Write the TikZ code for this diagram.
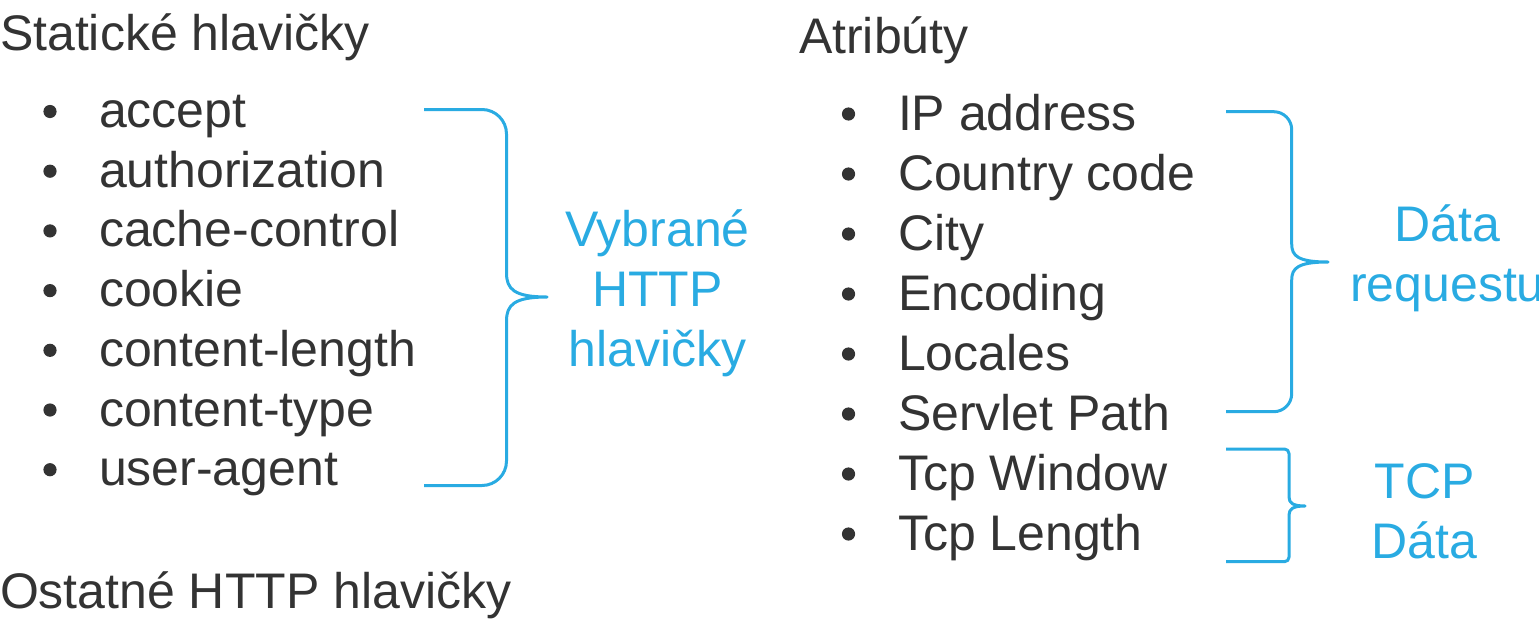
\documentclass[tikz,border=0pt]{standalone}
\usepackage{fontspec}
\setmainfont{Liberation Sans}
\definecolor{txtgray}{RGB}{51,51,51}
\definecolor{bracblue}{RGB}{41,171,226}
\tikzset{
  lbl/.style={inner sep=0pt, outer sep=0pt, anchor=base west, text=txtgray, font=\fontsize{50}{60}\selectfont},
  bluelbl/.style={inner sep=0pt, outer sep=0pt, anchor=base, text=bracblue, font=\fontsize{50}{60}\selectfont},
  brc/.style={draw=bracblue, line width=3pt, line cap=butt, line join=round},
  bul/.style={fill=txtgray}
}
\begin{document}
\begin{tikzpicture}[x=1pt,y=-1pt]
\useasboundingbox (0,0) rectangle (1539,624);
% left column
\node[lbl] (sh) at (0,50) {Statické hlavičky};
\node[lbl] (l1) at (99,127.5) {accept};
\node[lbl] (l2) at (99,187.2) {authorization};
\node[lbl] (l3) at (99,246.9) {cache-control};
\node[lbl] (l4) at (99,306.6) {cookie};
\node[lbl] (l5) at (99,366.3) {content-length};
\node[lbl] (l6) at (99,426) {content-type};
\node[lbl] (l7) at (99,485.7) {user-agent};
\node[lbl] (oh) at (0,608) {Ostatné HTTP hlavičky};
\foreach \y in {127.5,187.2,246.9,306.6,366.3,426,485.7}
  \fill[bul] (50,\y-16) circle (6.6);
% right column
\node[lbl] (at) at (799,53.3) {Atribúty};
\node[lbl] (r1) at (898,130) {IP address};
\node[lbl] (r2) at (898,190) {Country code};
\node[lbl] (r3) at (898,250) {City};
\node[lbl] (r4) at (898,310) {Encoding};
\node[lbl] (r5) at (898,370) {Locales};
\node[lbl] (r6) at (898,430) {Servlet Path};
\node[lbl] (r7) at (898,490) {Tcp Window};
\node[lbl] (r8) at (898,550) {Tcp Length};
\foreach \y in {130,190,250,310,370,430,490,550}
  \fill[bul] (848.5,\y-16) circle (6.6);
% blue labels
\node[bluelbl] (v1) at (657.5,246.7) {Vybrané};
\node[bluelbl] (v2) at (657.5,306.7) {HTTP};
\node[bluelbl] (v3) at (657.5,366.7) {hlavičky};
\node[bluelbl] (d1) at (1447.5,241.7) {Dáta};
\node[bluelbl] (d2) at (1447.5,301.7) {requestu};
\node[bluelbl] (t1) at (1424.5,498.3) {TCP};
\node[bluelbl] (t2) at (1424.5,558.3) {Dáta};
% brace 1
\draw[brc] (424,109.5) -- (482,109.5) arc[start angle=270,end angle=360,radius=24.5]
  -- (506.5,273) .. controls (506.5,289) and (514,297) .. (547,297)
  .. controls (514,297) and (506.5,305) .. (506.5,321)
  -- (506.5,461) arc[start angle=0,end angle=90,radius=24.5] -- (424,485.5);
% brace 2
\draw[brc] (1226,111.7) -- (1273.7,111.7) arc[start angle=270,end angle=360,radius=18]
  -- (1291.7,244) .. controls (1291.7,256) and (1298,262) .. (1328,262)
  .. controls (1298,262) and (1291.7,268) .. (1291.7,280)
  -- (1291.7,393.7) arc[start angle=0,end angle=90,radius=18] -- (1226,411.7);
% brace 3
\draw[brc] (1226,449) -- (1284.5,449) arc[start angle=270,end angle=360,radius=4.5]
  -- (1289,497) .. controls (1289,503) and (1293,506) .. (1305,506)
  .. controls (1293,506) and (1289,509) .. (1289,515)
  -- (1289,557.2) arc[start angle=0,end angle=90,radius=4.5] -- (1226,561.7);
\end{tikzpicture}
\end{document}
